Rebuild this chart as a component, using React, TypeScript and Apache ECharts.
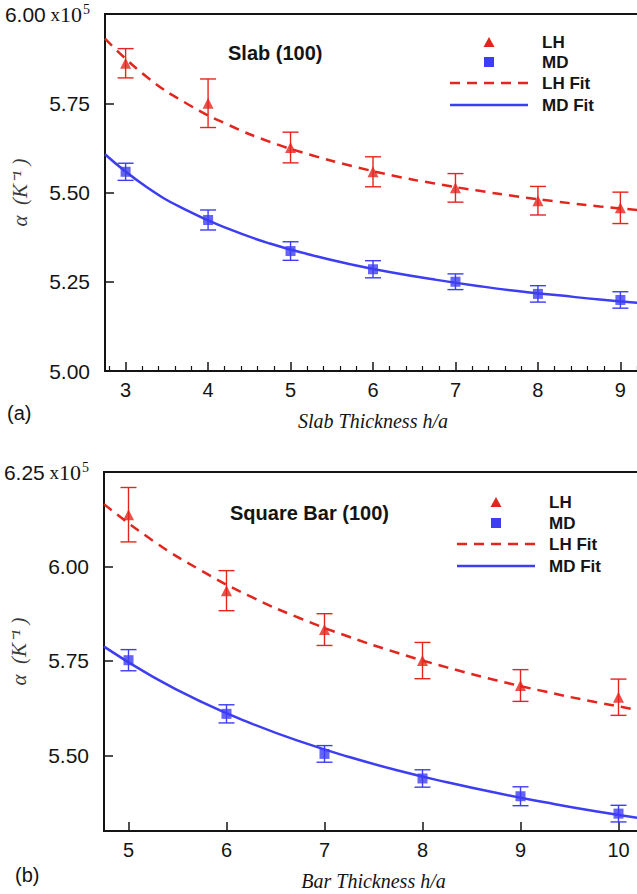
import React, { useEffect, useRef } from "react";
import * as echarts from "echarts";

// ---- Panel (a): Slab (100) ----
const slabX = [3, 4, 5, 6, 7, 8, 9];
const slabLH = [5.862, 5.75, 5.626, 5.558, 5.513, 5.477, 5.457];
const slabLHErr = [0.041, 0.068, 0.043, 0.042, 0.04, 0.04, 0.044];
const slabMD = [5.558, 5.423, 5.336, 5.285, 5.25, 5.216, 5.199];
const slabMDErr = [0.024, 0.028, 0.026, 0.024, 0.022, 0.023, 0.023];
const slabFitX = [2.75, 3.25, 3.75, 4.25, 4.75, 5.25, 5.75, 6.25, 6.75, 7.25, 7.75, 8.25, 8.75, 9.25];
const slabLHFit = [5.931, 5.825, 5.748, 5.689, 5.642, 5.605, 5.574, 5.547, 5.525, 5.506, 5.489, 5.474, 5.461, 5.45];
const slabMDFit = [5.607, 5.516, 5.449, 5.398, 5.357, 5.325, 5.298, 5.275, 5.256, 5.239, 5.224, 5.212, 5.2, 5.19];
const slabXTicks = [3, 4, 5, 6, 7, 8, 9];
const slabXMinor = [2.8, 3.2, 3.4, 3.6, 3.8, 4.2, 4.4, 4.6, 4.8, 5.2, 5.4, 5.6, 5.8, 6.2, 6.4, 6.6, 6.8, 7.2, 7.4, 7.6, 7.8, 8.2, 8.4, 8.6, 8.8, 9.2];

// ---- Panel (b): Square Bar (100) ----
const barX = [5, 6, 7, 8, 9, 10];
const barLH = [6.137, 5.936, 5.833, 5.751, 5.685, 5.654];
const barLHErr = [0.072, 0.053, 0.042, 0.048, 0.042, 0.048];
const barMD = [5.752, 5.61, 5.504, 5.439, 5.392, 5.346];
const barMDErr = [0.028, 0.024, 0.022, 0.023, 0.025, 0.022];
const barFitX = [4.75, 5.25, 5.75, 6.25, 6.75, 7.25, 7.75, 8.25, 8.75, 9.25, 9.75, 10.25];
const barLHFit = [6.165, 6.068, 5.988, 5.92, 5.863, 5.814, 5.771, 5.733, 5.699, 5.669, 5.642, 5.618];
const barMDFit = [5.788, 5.708, 5.641, 5.585, 5.537, 5.496, 5.46, 5.429, 5.401, 5.376, 5.353, 5.333];
const barXTicks = [5, 6, 7, 8, 9, 10];
const barYTicks = [5.5, 5.75, 6.0, 6.25];

const RED = "#e3261d";
const BLUE = "#3d3df2";
const INK = "#141414";
const SANS = "Liberation Sans, Arial, Helvetica, sans-serif";
const SERIF = "Liberation Serif, Times New Roman, serif";

const errBar = (color: string) => (params: any, api: any) => {
  const x = api.value(0);
  const lo = api.coord([x, api.value(1)]);
  const hi = api.coord([x, api.value(2)]);
  const w = 8;
  const st = { stroke: color, lineWidth: 1.4 };
  return {
    type: "group",
    children: [
      { type: "line", shape: { x1: lo[0], y1: lo[1], x2: hi[0], y2: hi[1] }, style: st },
      { type: "line", shape: { x1: lo[0] - w, y1: lo[1], x2: lo[0] + w, y2: lo[1] }, style: st },
      { type: "line", shape: { x1: hi[0] - w, y1: hi[1], x2: hi[0] + w, y2: hi[1] }, style: st },
    ],
  };
};

const pairs = (xs: number[], ys: number[]) => xs.map((x, i) => [x, ys[i]]);
const errs = (xs: number[], ys: number[], es: number[]) => xs.map((x, i) => [x, ys[i] - es[i], ys[i] + es[i]]);

const topFmt = (top: number) => (v: number) =>
  Math.abs(v - top) < 1e-9 ? `{n|${v.toFixed(2)}}{x| x}{t|10}{s|5}` : `{n|${v.toFixed(2)}}`;

const richY = {
  n: { fontSize: 21, fontFamily: SANS, color: INK },
  x: { fontSize: 19, fontFamily: SERIF, color: INK },
  t: { fontSize: 22, fontFamily: SERIF, color: INK },
  s: { fontSize: 14, fontFamily: SERIF, color: INK, verticalAlign: "top", padding: [0, 0, 10, 1] },
};

function legendGraphics(tx: number, lx0: number, lx1: number, ly: number[], textX: number) {
  const font = { fontSize: 17, fontWeight: "bold", fontFamily: SANS, fill: INK };
  const items: any[] = [];
  items.push({ type: "polygon", shape: { points: [[tx - 5.5, ly[0] + 5], [tx + 5.5, ly[0] + 5], [tx, ly[0] - 5]] }, style: { fill: RED } });
  items.push({ type: "rect", shape: { x: tx - 5, y: ly[1] - 5, width: 10, height: 10 }, style: { fill: BLUE } });
  items.push({ type: "line", shape: { x1: lx0, y1: ly[2], x2: lx1, y2: ly[2] }, style: { stroke: RED, lineWidth: 2.5, lineDash: [10, 7] } });
  items.push({ type: "line", shape: { x1: lx0, y1: ly[3], x2: lx1, y2: ly[3] }, style: { stroke: BLUE, lineWidth: 2.5 } });
  const names = ["LH", "MD", "LH Fit", "MD Fit"];
  names.forEach((n, i) =>
    items.push({ type: "text", x: textX, y: ly[i], style: { text: n, ...font, verticalAlign: "middle", align: "left" } })
  );
  return items;
}

export default function App() {
  const ref = useRef<HTMLDivElement>(null);
  useEffect(() => {
    if (!ref.current) return;
    const chart = echarts.init(ref.current, undefined, { renderer: "svg" });
    const axisLine = { show: true, lineStyle: { color: INK, width: 2 } };
    const xLabel = { fontSize: 20, fontFamily: SANS, color: INK, margin: 9 };
    const xName = { fontSize: 20, fontFamily: SERIF, fontStyle: "italic", color: INK };
    const yName = { fontSize: 21, fontFamily: SERIF, fontStyle: "italic", color: "#3a3a3a" };
    const option: any = {
      animation: false,
      backgroundColor: "#fff",
      grid: [
        { left: 105, top: 14, width: 536, height: 357, show: true, borderColor: INK, borderWidth: 2, containLabel: false, outerBoundsMode: "none" },
        { left: 104, top: 472, width: 539, height: 359, show: true, borderColor: INK, borderWidth: 2, containLabel: false, outerBoundsMode: "none" },
      ],
      xAxis: [
        {
          type: "value", gridIndex: 0, min: 2.75, max: 9.25, axisLine,
          axisTick: { show: true, inside: true, length: 9, lineStyle: { color: INK, width: 1.5 }, customValues: slabXTicks },
          axisLabel: { ...xLabel, customValues: slabXTicks },
          splitLine: { show: false },
          name: "Slab Thickness h/a", nameLocation: "middle", nameGap: 40, nameMoveOverlap: false, nameTextStyle: xName,
        },
        {
          type: "value", gridIndex: 0, min: 2.75, max: 9.25, position: "bottom",
          axisLine: { show: false },
          axisTick: { show: true, inside: true, length: 5, lineStyle: { color: INK, width: 1.2 }, customValues: slabXMinor },
          axisLabel: { show: false },
          splitLine: { show: false },
        },
        {
          type: "value", gridIndex: 1, min: 4.75, max: 10.25, axisLine,
          axisTick: { show: true, inside: true, length: 9, lineStyle: { color: INK, width: 1.5 }, customValues: barXTicks },
          axisLabel: { ...xLabel, customValues: barXTicks },
          splitLine: { show: false },
          name: "Bar Thickness h/a", nameLocation: "middle", nameGap: 40, nameMoveOverlap: false, nameTextStyle: xName,
        },
      ],
      yAxis: [
        {
          type: "value", gridIndex: 0, min: 5.0, max: 6.0, interval: 0.25, axisLine,
          axisTick: { show: true, inside: true, length: 9, lineStyle: { color: INK, width: 1.5 } },
          axisLabel: { margin: 15, formatter: topFmt(6.0), rich: richY },
          splitLine: { show: false },
          name: "α  (K⁻¹ )", nameLocation: "middle", nameGap: 75, nameRotate: 90, nameMoveOverlap: false, nameTextStyle: yName,
        },
        {
          type: "value", gridIndex: 1, min: 5.3, max: 6.25, axisLine,
          axisTick: { show: true, inside: true, length: 9, lineStyle: { color: INK, width: 1.5 }, customValues: barYTicks },
          axisLabel: { margin: 15, formatter: topFmt(6.25), rich: richY, customValues: barYTicks },
          splitLine: { show: false },
          name: "α  (K⁻¹ )", nameLocation: "middle", nameGap: 75, nameRotate: 90, nameMoveOverlap: false, nameTextStyle: yName,
        },
      ],
      series: [
        // Panel a
        { type: "custom", name: "LH err a", xAxisIndex: 0, yAxisIndex: 0, data: errs(slabX, slabLH, slabLHErr), renderItem: errBar(RED), z: 2 },
        { type: "custom", name: "MD err a", xAxisIndex: 0, yAxisIndex: 0, data: errs(slabX, slabMD, slabMDErr), renderItem: errBar(BLUE), z: 2 },
        { type: "line", name: "LH Fit", xAxisIndex: 0, yAxisIndex: 0, data: pairs(slabFitX, slabLHFit), smooth: 0.5, showSymbol: false, symbol: "none", lineStyle: { color: RED, width: 2.5, type: [10, 7] }, z: 3 },
        { type: "line", name: "MD Fit", xAxisIndex: 0, yAxisIndex: 0, data: pairs(slabFitX, slabMDFit), smooth: 0.5, showSymbol: false, symbol: "none", lineStyle: { color: BLUE, width: 2.5 }, z: 3 },
        { type: "scatter", name: "LH", xAxisIndex: 0, yAxisIndex: 0, data: pairs(slabX, slabLH), symbol: "triangle", symbolSize: 11, itemStyle: { color: RED }, z: 4 },
        { type: "scatter", name: "MD", xAxisIndex: 0, yAxisIndex: 0, data: pairs(slabX, slabMD), symbol: "rect", symbolSize: 10, itemStyle: { color: BLUE }, z: 4 },
        // Panel b
        { type: "custom", name: "LH err b", xAxisIndex: 2, yAxisIndex: 1, data: errs(barX, barLH, barLHErr), renderItem: errBar(RED), z: 2 },
        { type: "custom", name: "MD err b", xAxisIndex: 2, yAxisIndex: 1, data: errs(barX, barMD, barMDErr), renderItem: errBar(BLUE), z: 2 },
        { type: "line", name: "LH Fit b", xAxisIndex: 2, yAxisIndex: 1, data: pairs(barFitX, barLHFit), smooth: 0.5, showSymbol: false, symbol: "none", lineStyle: { color: RED, width: 2.5, type: [10, 7] }, z: 3 },
        { type: "line", name: "MD Fit b", xAxisIndex: 2, yAxisIndex: 1, data: pairs(barFitX, barMDFit), smooth: 0.5, showSymbol: false, symbol: "none", lineStyle: { color: BLUE, width: 2.5 }, z: 3 },
        { type: "scatter", name: "LH b", xAxisIndex: 2, yAxisIndex: 1, data: pairs(barX, barLH), symbol: "triangle", symbolSize: 11, itemStyle: { color: RED }, z: 4 },
        { type: "scatter", name: "MD b", xAxisIndex: 2, yAxisIndex: 1, data: pairs(barX, barMD), symbol: "rect", symbolSize: 10, itemStyle: { color: BLUE }, z: 4 },
      ],
      graphic: [
        { type: "text", x: 228, y: 53, style: { text: "Slab (100)", fontSize: 20, fontWeight: "bold", fontFamily: SANS, fill: INK, verticalAlign: "middle" } },
        { type: "text", x: 230, y: 513, style: { text: "Square Bar (100)", fontSize: 20, fontWeight: "bold", fontFamily: SANS, fill: INK, verticalAlign: "middle" } },
        { type: "text", x: 7, y: 413, style: { text: "(a)", fontSize: 20, fontFamily: SANS, fill: INK, verticalAlign: "middle" } },
        { type: "text", x: 15, y: 875, style: { text: "(b)", fontSize: 20, fontFamily: SANS, fill: INK, verticalAlign: "middle" } },
        ...legendGraphics(489, 450, 528, [42, 62, 83, 105], 542),
        ...legendGraphics(496, 457, 535, [502, 523, 544, 566], 549),
      ],
    };
    chart.setOption(option);
    return () => chart.dispose();
  }, []);
  return <div ref={ref} style={{ position: "absolute", left: 0, top: 0, width: 637, height: 894 }} />;
}
